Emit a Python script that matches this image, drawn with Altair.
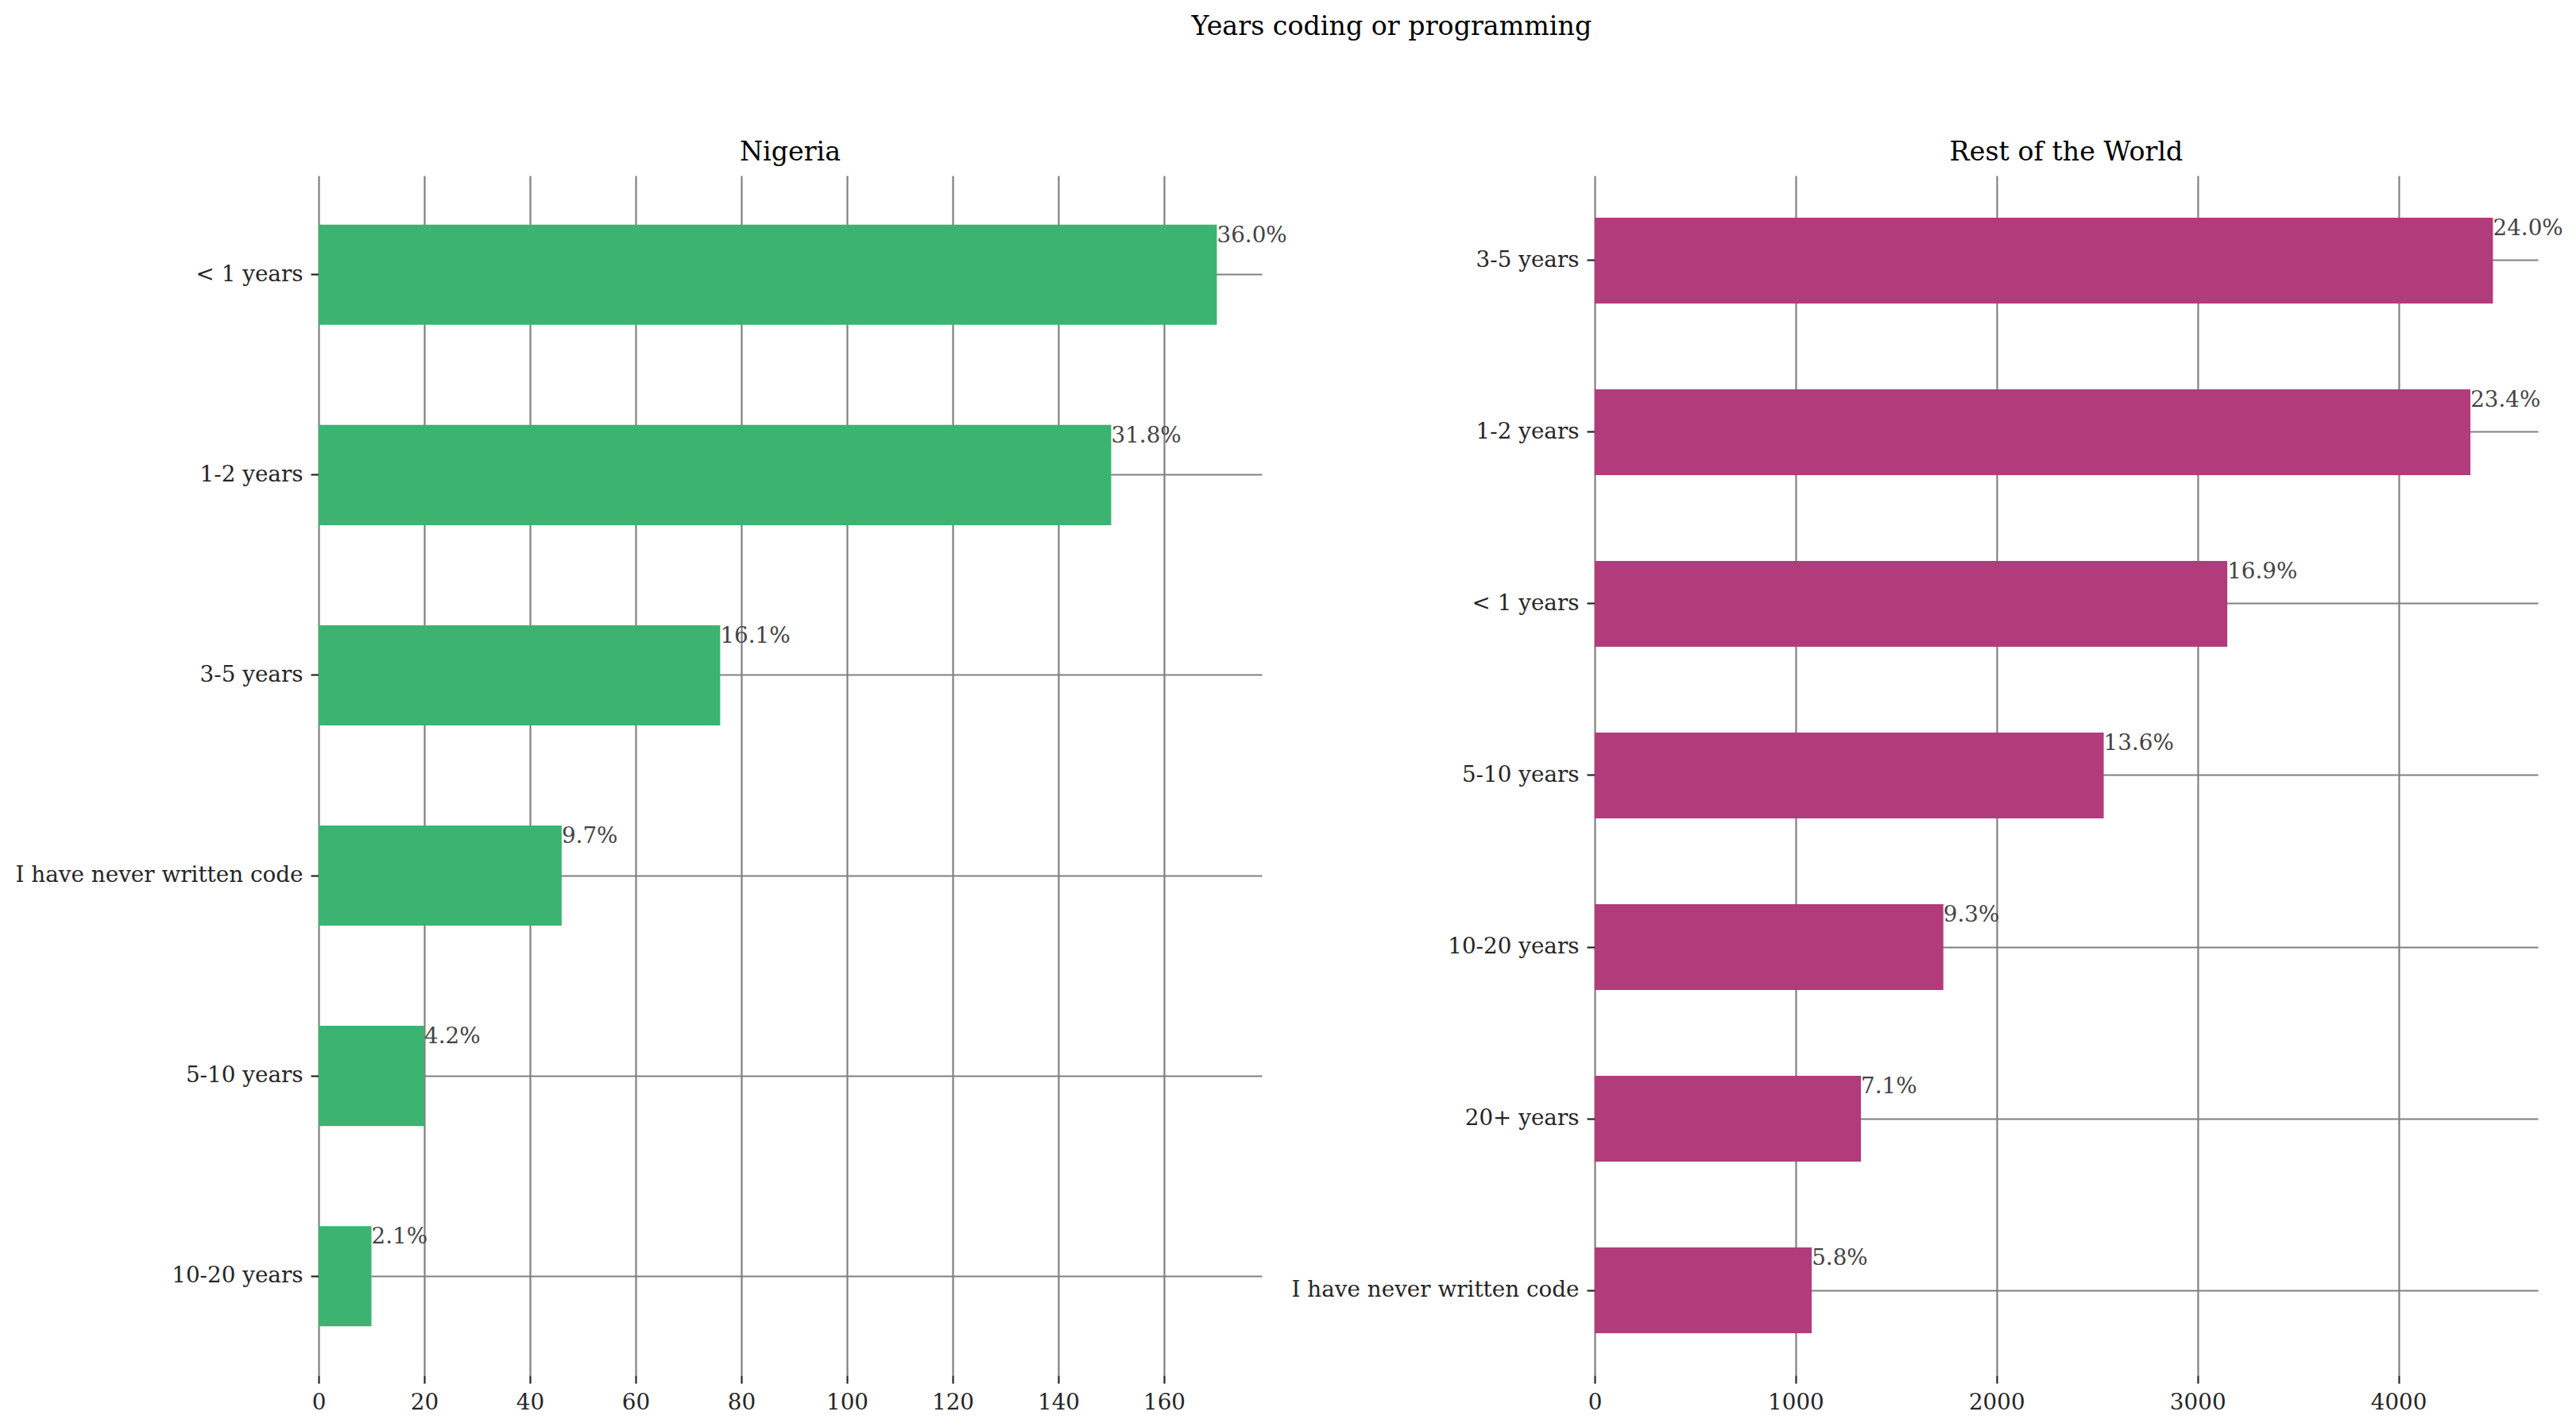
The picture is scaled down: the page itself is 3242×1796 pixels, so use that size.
import altair as alt
import pandas as pd

# Nigeria
ng_cats = ["< 1 years", "1-2 years", "3-5 years", "I have never written code", "5-10 years", "10-20 years"]
ng_vals = [170, 150, 76, 46, 20, 10]
ng_pct = ["36.0%", "31.8%", "16.1%", "9.7%", "4.2%", "2.1%"]
ng_ticks = [0, 20, 40, 60, 80, 100, 120, 140, 160]

# Rest of the World
rw_cats = ["3-5 years", "1-2 years", "< 1 years", "5-10 years", "10-20 years", "20+ years", "I have never written code"]
rw_vals = [4470, 4358, 3148, 2533, 1735, 1325, 1080]
rw_pct = ["24.0%", "23.4%", "16.9%", "13.6%", "9.3%", "7.1%", "5.8%"]
rw_ticks = [0, 1000, 2000, 3000, 4000]

FONT = "DejaVu Serif"
TICK_FS = 27.8
TITLE_FS = 33.3
GRID = "#808080"
DARK = "#262626"


def panel(cats, vals, pcts, ticks, color, title):
    df = pd.DataFrame({"cat": cats, "val": vals, "pct": pcts})
    xmax = max(vals) * 1.05
    yscale = alt.Scale(paddingInner=0.5, paddingOuter=0.245)
    y = alt.Y("cat:N", sort=cats, scale=yscale,
              axis=alt.Axis(title=None, domain=False, ticks=True, tickSize=10, tickWidth=2.2,
                            tickColor=DARK, labelColor=DARK, labelFont=FONT,
                            labelFontSize=TICK_FS, labelPadding=10, labelLimit=0,
                            grid=True, gridColor=GRID, gridWidth=2.2, bandPosition=0.5))
    x = alt.X("val:Q", scale=alt.Scale(domain=[0, xmax], nice=False, zero=True),
              axis=alt.Axis(title=None, domain=False, values=ticks, format="d",
                            tickSize=10, tickWidth=2.2, tickColor=DARK, labelColor=DARK,
                            labelFont=FONT, labelFontSize=TICK_FS, labelPadding=10,
                            grid=True, gridColor=GRID, gridWidth=2.2, labelFlush=False))
    bars = alt.Chart(df).mark_bar(color=color).encode(x=x, y=y)
    text = alt.Chart(df).mark_text(align="left", baseline="top", font=FONT,
                                   fontSize=TICK_FS, color="#444444").encode(
        x=alt.X("val:Q"),
        y=alt.Y("cat:N", sort=cats, bandPosition=0),
        text="pct:N",
    )
    return alt.layer(bars, text).properties(
        width=1187, height=1510,
        title=alt.TitleParams(title, font=FONT, fontSize=TITLE_FS, fontWeight="normal",
                              color="black", baseline="alphabetic", offset=-14),
    )


left = panel(ng_cats, ng_vals, ng_pct, ng_ticks, "#3cb371", "Nigeria")
right = panel(rw_cats, rw_vals, rw_pct, rw_ticks, "#b23b7c", "Rest of the World")

chart = alt.hconcat(left, right, spacing=5).properties(
    title=alt.TitleParams("Years coding or programming", font=FONT, fontSize=TITLE_FS,
                          fontWeight="normal", color="black", anchor="middle",
                          baseline="alphabetic", offset=97, dx=129),
    padding={"left": 11, "top": 9, "right": 5, "bottom": 5},
    background="white",
).configure_view(stroke=None).resolve_scale(x="independent", y="independent")

chart.save("out.html", embed_options={"renderer": "svg", "actions": False})
